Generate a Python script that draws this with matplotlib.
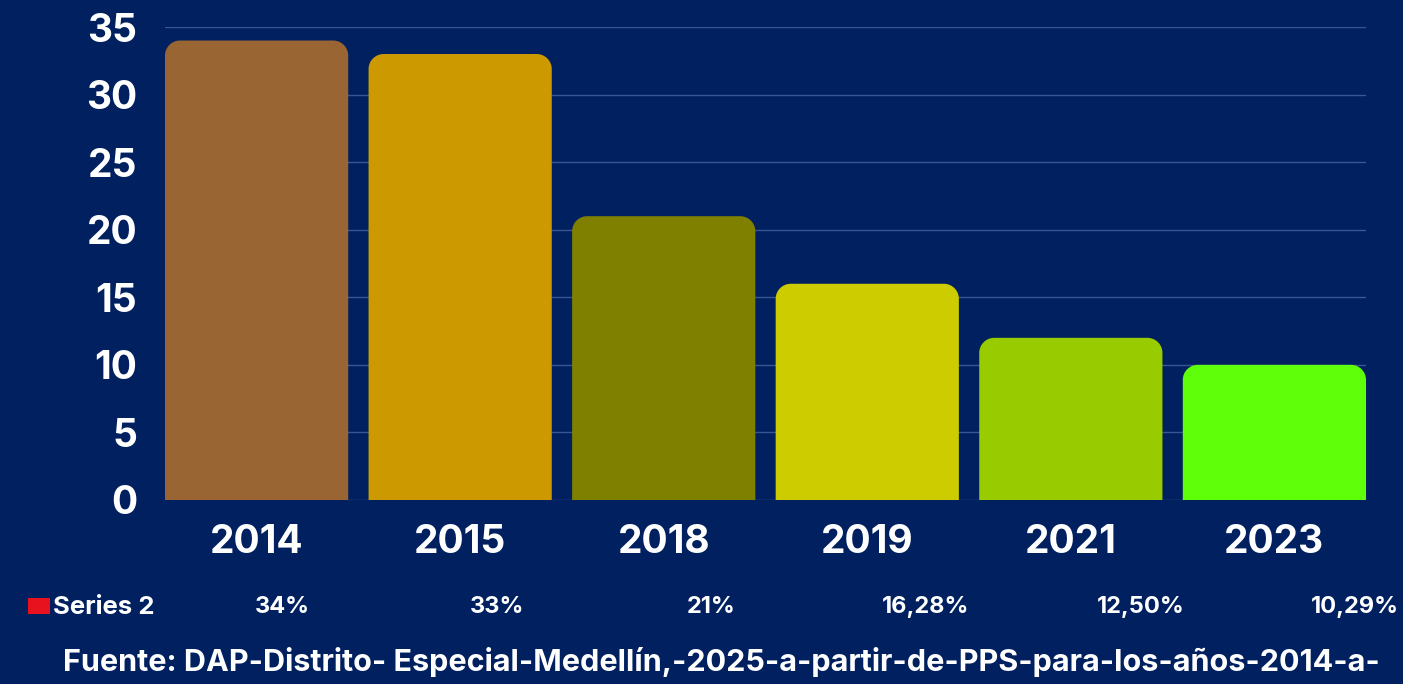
import numpy as np
import matplotlib
matplotlib.use('Agg')
import matplotlib.pyplot as plt
from matplotlib.path import Path
from matplotlib.patches import PathPatch

# Series 1 drawn as bars, Series 2 shown as a table row below
years = ['2014', '2015', '2018', '2019', '2021', '2023']
series1 = [34, 33, 21, 16, 12, 10]
series2_labels = ['34%', '33%', '21%', '16,28%', '12,50%', '10,29%']
bar_colors = ['#996633', '#CC9900', '#808000', '#CCCC00', '#99CC00', '#5FFF0A']

bg = '#002060'
font = ['Inter', 'DejaVu Sans']

W, H = 1403, 684
fig = plt.figure(figsize=(W / 100, H / 100), dpi=100, facecolor=bg)
ax = fig.add_axes([165 / W, (H - 500) / H, 1201 / W, 473 / H], facecolor=bg)

x = np.arange(len(years))
bars = ax.bar(x, series1, width=0.9, color=bar_colors, zorder=3)
ax.set_xlim(-0.45, len(years) - 0.55)
ax.set_ylim(0, 35)
ax.set_yticks(np.arange(0, 36, 5))
ax.set_xticks(x)
ax.set_xticklabels(years)

# replace the plain rectangles with top-rounded ones
radius_px = 15
px_x = 1201 / (len(years) - 0.1)
px_y = 473 / 35.0
rx = radius_px / px_x
ry = radius_px / px_y
k = 0.5523
for b, c in zip(bars, bar_colors):
    x0, w, h = b.get_x(), b.get_width(), b.get_height()
    x1 = x0 + w
    verts = [
        (x0, 0), (x0, h - ry),
        (x0, h - ry + k * ry), (x0 + rx - k * rx, h), (x0 + rx, h),
        (x1 - rx, h),
        (x1 - rx + k * rx, h), (x1, h - ry + k * ry), (x1, h - ry),
        (x1, 0), (x0, 0),
    ]
    codes = [Path.MOVETO, Path.LINETO,
             Path.CURVE4, Path.CURVE4, Path.CURVE4,
             Path.LINETO,
             Path.CURVE4, Path.CURVE4, Path.CURVE4,
             Path.LINETO, Path.CLOSEPOLY]
    ax.add_patch(PathPatch(Path(verts, codes), facecolor=c, edgecolor='none', zorder=3))
    b.set_visible(False)

ax.grid(axis='y', color='#3B5590', linewidth=1, zorder=0)
for s in ax.spines.values():
    s.set_visible(False)
ax.tick_params(length=0)
ax.tick_params(axis='y', pad=20)
ax.tick_params(axis='x', pad=17)
for l in ax.get_yticklabels():
    l.set_fontsize(28)
    l.set_fontweight('bold')
    l.set_color('white')
    l.set_family(font)
for l in ax.get_xticklabels():
    l.set_fontsize(28)
    l.set_fontweight('bold')
    l.set_color('white')
    l.set_family(font)

# legend key and data-table row for Series 2
fig.patches.append(plt.Rectangle((28 / W, (H - 614) / H), 22 / W, 16 / H,
                                 transform=fig.transFigure, facecolor='#E8121E',
                                 edgecolor='none'))
fig.text(53 / W, (H - 608) / H, 'Series 2', fontsize=18.5, fontweight='bold',
         color='white', va='center', ha='left', family=font)
for i, lab in enumerate(series2_labels):
    cx = 282 + i * 214.6
    fig.text(cx / W, (H - 607) / H, lab, fontsize=17, fontweight='bold',
             color='white', va='center', ha='center', family=font)

fig.text(63 / W, (H - 662) / H,
         'Fuente: DAP-Distrito- Especial-Medellín,-2025-a-partir-de-PPS-para-los-años-2014-a-',
         fontsize=22, fontweight='bold', color='white', va='center', ha='left',
         family=font)

fig.savefig('out.png', dpi=100, facecolor=bg)
plt.close(fig)
